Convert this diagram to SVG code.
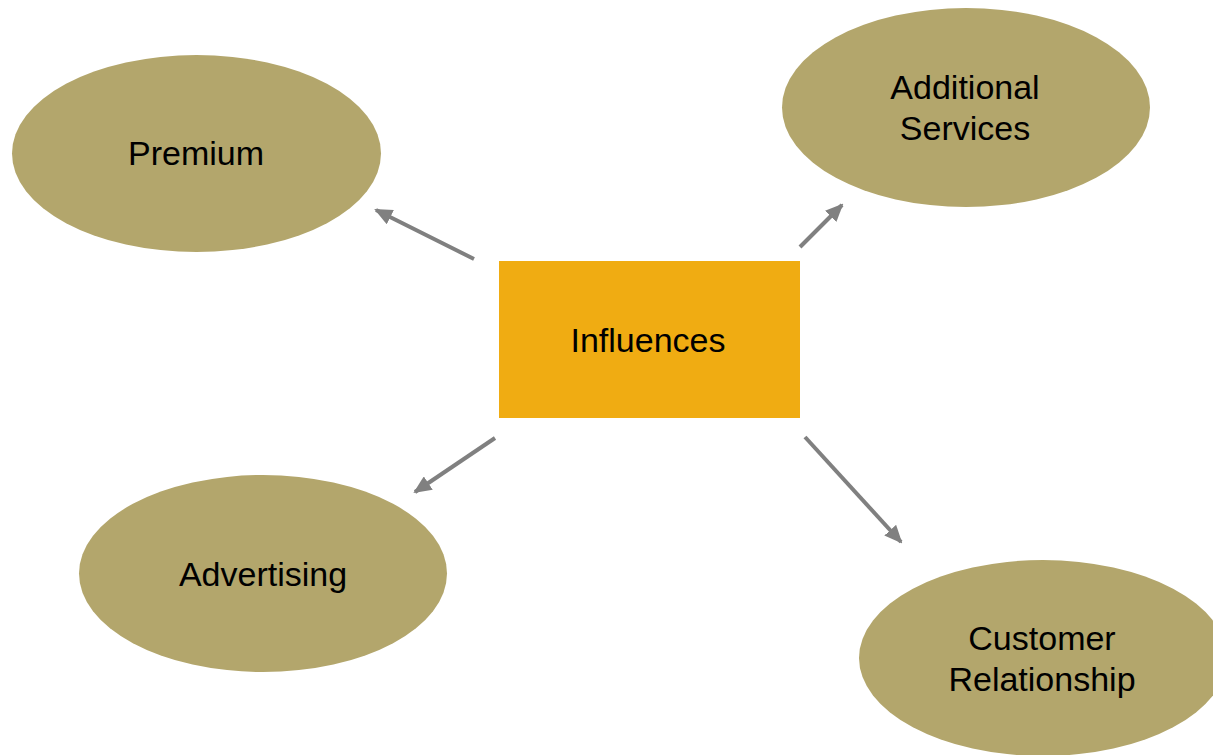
<svg xmlns="http://www.w3.org/2000/svg" width="1213" height="755" viewBox="0 0 1213 755">
<style>
.oval{fill:#B3A66C;}
.box{fill:#F0AC12;}
.lbl{font-family:"Liberation Sans",Arial,sans-serif;font-size:34px;fill:#000;text-anchor:middle;}
.conn{stroke:#808080;stroke-width:4;fill:none;marker-end:url(#ah);}
</style>
<defs>
<marker id="ah" markerUnits="userSpaceOnUse" markerWidth="18" markerHeight="16" refX="16" refY="8" orient="auto">
<path d="M0,0 L18,8 L0,16 Z" fill="#808080"/>
</marker>
</defs>
<rect width="1213" height="755" fill="#fff"/>
<g id="connectors">
<line class="conn" x1="474" y1="259" x2="376" y2="210"/>
<line class="conn" x1="800" y1="247" x2="842" y2="205"/>
<line class="conn" x1="495" y1="438" x2="415" y2="492"/>
<line class="conn" x1="805" y1="437" x2="901" y2="542"/>
</g>
<g id="premium">
<ellipse class="oval" cx="196.5" cy="153.5" rx="184.5" ry="98.5"/>
<text class="lbl" x="196" y="165">Premium</text>
</g>
<g id="additional-services">
<ellipse class="oval" cx="966" cy="107.5" rx="184" ry="99.5"/>
<text class="lbl" x="965" y="99">Additional</text>
<text class="lbl" x="965" y="140">Services</text>
</g>
<g id="influences">
<rect class="box" x="499" y="261" width="301" height="157"/>
<text class="lbl" x="648" y="352">Influences</text>
</g>
<g id="advertising">
<ellipse class="oval" cx="263" cy="573.5" rx="184" ry="98.5"/>
<text class="lbl" x="263" y="586">Advertising</text>
</g>
<g id="customer-relationship">
<ellipse class="oval" cx="1043" cy="658" rx="184" ry="98"/>
<text class="lbl" x="1042" y="650">Customer</text>
<text class="lbl" x="1042" y="691">Relationship</text>
</g>
</svg>
